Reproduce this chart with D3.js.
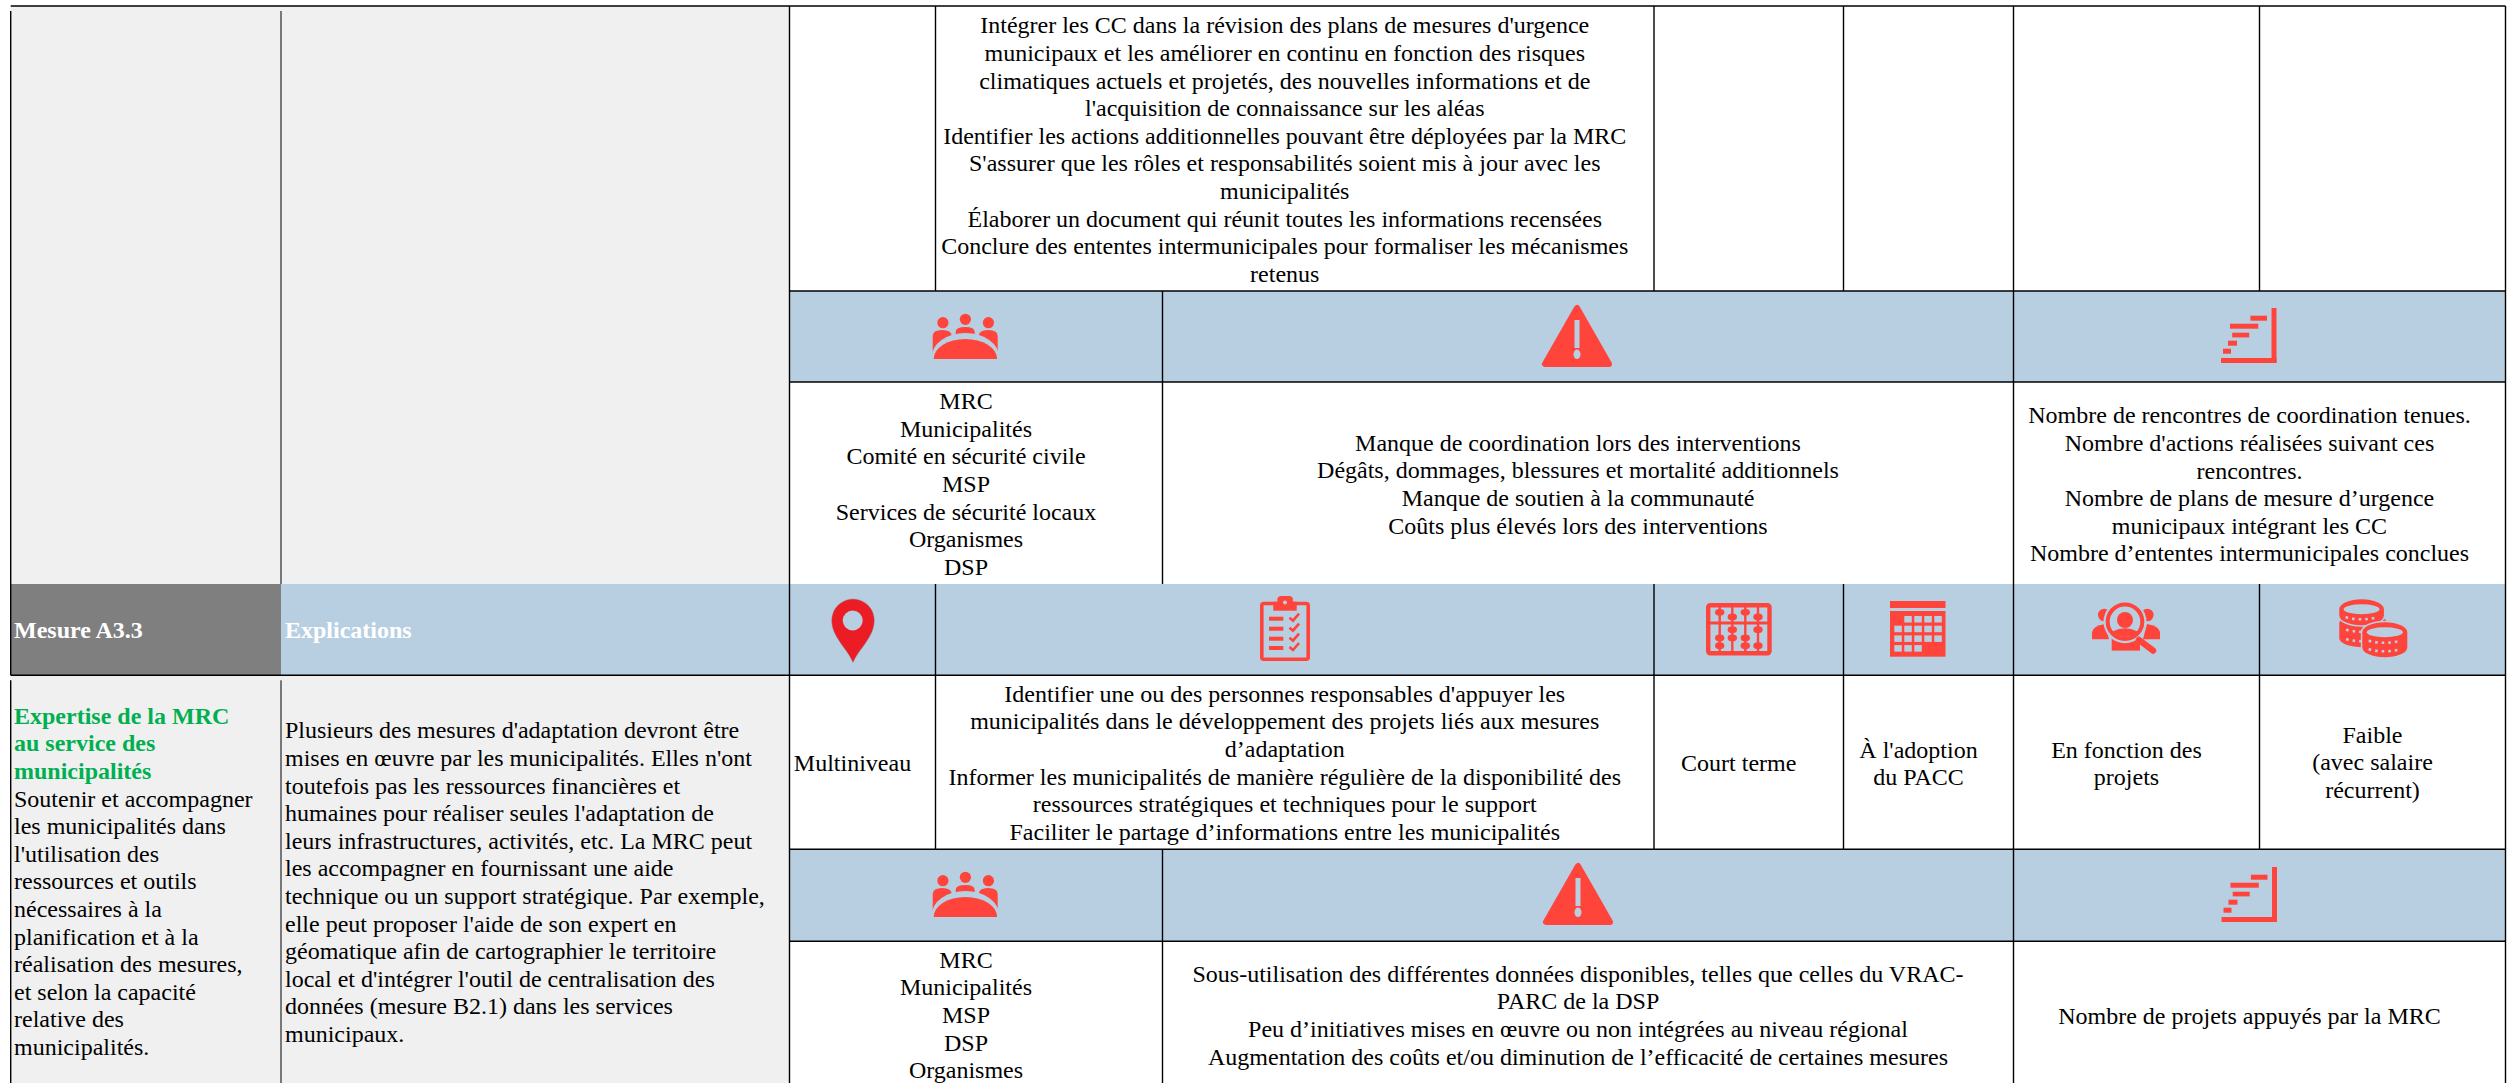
<!DOCTYPE html>
<html><head><meta charset="utf-8">
<script src="https://cdn.jsdelivr.net/npm/d3@7"></script>
<style>html,body{margin:0;padding:0;background:#fff;overflow:hidden}svg{display:block}text{font-family:"Liberation Serif",serif}</style>
</head><body><svg id="c" width="2518" height="1083"></svg>
<script>
const actionsA3_2 = ["Intégrer les CC dans la révision des plans de mesures d'urgence","municipaux et les améliorer en continu en fonction des risques","climatiques actuels et projetés, des nouvelles informations et de","l'acquisition de connaissance sur les aléas","Identifier les actions additionnelles pouvant être déployées par la MRC","S'assurer que les rôles et responsabilités soient mis à jour avec les","municipalités","Élaborer un document qui réunit toutes les informations recensées","Conclure des ententes intermunicipales pour formaliser les mécanismes","retenus"];
const acteursA3_2 = ["MRC","Municipalités","Comité en sécurité civile","MSP","Services de sécurité locaux","Organismes","DSP"];
const risquesA3_2 = ["Manque de coordination lors des interventions","Dégâts, dommages, blessures et mortalité additionnels","Manque de soutien à la communauté","Coûts plus élevés lors des interventions"];
const indicateursA3_2 = ["Nombre de rencontres de coordination tenues.","Nombre d'actions réalisées suivant ces","rencontres.","Nombre de plans de mesure d’urgence","municipaux intégrant les CC","Nombre d’ententes intermunicipales conclues"];
const mesureHead = ["Mesure A3.3"];
const explicHead = ["Explications"];
const mesureTitre = ["Expertise de la MRC","au service des","municipalités"];
const mesureTexte = ["Soutenir et accompagner","les municipalités dans","l'utilisation des","ressources et outils","nécessaires à la","planification et à la","réalisation des mesures,","et selon la capacité","relative des","municipalités."];
const explications = ["Plusieurs des mesures d'adaptation devront être","mises en œuvre par les municipalités. Elles n'ont","toutefois pas les ressources financières et","humaines pour réaliser seules l'adaptation de","leurs infrastructures, activités, etc. La MRC peut","les accompagner en fournissant une aide","technique ou un support stratégique. Par exemple,","elle peut proposer l'aide de son expert en","géomatique afin de cartographier le territoire","local et d'intégrer l'outil de centralisation des","données (mesure B2.1) dans les services","municipaux."];
const echelle = ["Multiniveau"];
const actionsA3_3 = ["Identifier une ou des personnes responsables d'appuyer les","municipalités dans le développement des projets liés aux mesures","d’adaptation","Informer les municipalités de manière régulière de la disponibilité des","ressources stratégiques et techniques pour le support","Faciliter le partage d’informations entre les municipalités"];
const horizon = ["Court terme"];
const echeance = ["À l'adoption","du PACC"];
const ressources = ["En fonction des","projets"];
const couts = ["Faible","(avec salaire","récurrent)"];
const acteursA3_3 = ["MRC","Municipalités","MSP","DSP","Organismes"];
const risquesA3_3 = ["Sous-utilisation des différentes données disponibles, telles que celles du VRAC-","PARC de la DSP","Peu d’initiatives mises en œuvre ou non intégrées au niveau régional","Augmentation des coûts et/ou diminution de l’efficacité de certaines mesures"];
const indicateursA3_3 = ["Nombre de projets appuyés par la MRC"];

const colKeys = ["L","a","b","c","s","d","e","f","g","R"];
const x = d3.scaleOrdinal().domain(colKeys).range([10.7,281,789.5,935.5,1162.5,1654,1843.5,2013.5,2259.5,2505.5]);
const rowKeys = ["top","b1","b1e","b2","b2e","b3","b3e","end"];
const y = d3.scaleOrdinal().domain(rowKeys).range([6,291,382,584,675.3,849.3,941.3,1083]);
const COL = {blue:"#b8cfe2",gray:"#f0f0f0",dark:"#7f7f7f",red:"#ff443c",pin:"#ec1c24",green:"#00b050"};
const FS = 24, LH = 27.6, BASE = 6.7, CENTER_SHIFT = -10;

const svg = d3.select("#c");
const fills = [
 ["L","b","top","b2",COL.gray],["L","a","b2","b2e",COL.dark],["a","b","b2","b2e",COL.blue],["L","b","b2e","end",COL.gray],
 ["b","R","b1","b1e",COL.blue],["b","R","b2","b2e",COL.blue],["b","R","b3","b3e",COL.blue]
];
svg.append("g").selectAll("rect").data(fills).join("rect")
 .attr("x",d=>x(d[0])).attr("width",d=>x(d[1])-x(d[0]))
 .attr("y",d=>y(d[2])).attr("height",d=>y(d[3])-y(d[2])).attr("fill",d=>d[4]);

const hRules = [["L","R","top"],["b","R","b1"],["b","R","b1e"],["L","R","b2e"],["b","R","b3"],["b","R","b3e"]];
svg.append("g").selectAll("line").data(hRules).join("line")
 .attr("x1",d=>x(d[0])).attr("x2",d=>x(d[1])).attr("y1",d=>y(d[2])).attr("y2",d=>y(d[2]))
 .attr("stroke","#000").attr("stroke-width",1.6);
const GAP = 5;
const vRules = [
 ["L",y("top")+GAP,y("b2e")],["L",y("b2e")+GAP,y("end")],
 ["a",y("top")+GAP,y("b2")],["a",y("b2e")+GAP,y("end")],
 ["b",y("top"),y("end")],["f",y("top"),y("end")],["R",y("top"),y("end")],
 ["c",y("top"),y("b1")],["c",y("b2"),y("b3")],
 ["s",y("b1"),y("b2")],["s",y("b3"),y("end")],
 ["d",y("top"),y("b1")],["d",y("b2"),y("b3")],
 ["e",y("top"),y("b1")],["e",y("b2"),y("b3")],
 ["g",y("top"),y("b1")],["g",y("b2"),y("b3")]
];
svg.append("g").selectAll("line").data(vRules).join("line")
 .attr("x1",d=>x(d[0])).attr("x2",d=>x(d[0])).attr("y1",d=>d[1]).attr("y2",d=>d[2])
 .attr("stroke","#000").attr("stroke-width",d=>d[0]==="a"?1:1.4);

function block(lines,c0,c1,y0,opt={}){
 const cx = opt.left!==undefined ? opt.left : (x(c0)+x(c1))/2+CENTER_SHIFT;
 svg.append("g").selectAll("text").data(lines).join("text")
  .attr("x",cx).attr("y",(d,i)=>y0+BASE+i*LH)
  .attr("text-anchor",opt.left!==undefined?"start":"middle")
  .attr("font-size",FS).attr("font-weight",opt.bold?"bold":"normal")
  .attr("fill",opt.color||"#000").text(d=>d);
}
block(actionsA3_2,"c","d",26.7);
block(acteursA3_2,"b","s",402.5);
block(risquesA3_2,"s","f",444);
block(indicateursA3_2,"f","R",416.7);
block(mesureHead,"L","a",631,{left:14,bold:true,color:"#fff"});
block(explicHead,"a","b",631,{left:285,bold:true,color:"#fff"});
block(mesureTitre,"L","a",717,{left:14,bold:true,color:COL.green});
block(mesureTexte,"L","a",717+3*LH,{left:14});
block(explications,"a","b",731.7,{left:285});
block(echelle,"b","c",764);
block(actionsA3_3,"c","d",695);
block(horizon,"d","e",764);
block(echeance,"e","f",751);
block(ressources,"f","g",751);
block(couts,"g","R",736);
block(acteursA3_3,"b","s",961);
block(risquesA3_3,"s","f",975);
block(indicateursA3_3,"f","R",1017);

function icon(px,py){return svg.append("g").attr("transform",`translate(${px},${py})`).attr("fill",COL.red);}
function people(px,py){const g=icon(px,py);
 [[10.2,8.7],[32.7,5.3],[55.7,8.7]].forEach(c=>g.append("circle").attr("cx",c[0]).attr("cy",c[1]).attr("r",5.6));
 g.append("path").attr("d","M0,44 V22 Q0,16 9.5,16 Q19,16 19,22 V44Z");
 g.append("path").attr("d","M46,44 V22 Q46,16 55.5,16 Q65,16 65,22 V44Z");
 g.append("path").attr("d","M23,28 V18 Q23,13 32.7,13 Q42,13 42,18 V28Z");
 g.append("path").attr("fill",COL.blue).attr("d","M-1,45 V43 A33.7,24 0 0 1 66.4,43 V45Z");
 g.append("path").attr("d","M1,45 A31.7,20 0 0 1 64.4,45Z");
}
function warning(px,py){const g=icon(px,py);
 g.append("path").attr("d","M35,3 L3,59 H67Z").attr("stroke",COL.red).attr("stroke-width",6).attr("stroke-linejoin","round");
 g.append("rect").attr("x",32.5).attr("y",15).attr("width",5).attr("height",28).attr("fill",COL.blue);
 g.append("ellipse").attr("cx",35).attr("cy",49.3).attr("rx",3.5).attr("ry",4.8).attr("fill",COL.blue);
}
function steps(px,py){const g=icon(px,py);
 [[50.5,0,5,55],[0,50,55.5,5],[29.4,7.7,16.6,5],[9,15.7,28.3,5],[11.2,24.7,17,4.7],[7,32.7,9,5],[2,40.7,8,5]]
 .forEach(r=>g.append("rect").attr("x",r[0]).attr("y",r[1]).attr("width",r[2]).attr("height",r[3]));
}
function pin(px,py){const g=svg.append("g").attr("transform",`translate(${px},${py})`);
 g.append("path").attr("fill",COL.pin).attr("stroke","#8a7f8f").attr("stroke-width",.7).attr("stroke-opacity",.6)
  .attr("d","M21.3,63.5 C16,50 0,38 0,21.5 A21.3,21.5 0 0 1 42.6,21.5 C42.6,38 27,50 21.3,63.5Z");
 g.append("circle").attr("cx",21).attr("cy",21.5).attr("r",10).attr("fill",COL.blue);
}
function clipboard(px,py){const g=icon(px,py);
 g.append("rect").attr("x",1.8).attr("y",7.5).attr("width",46.4).attr("height",55.7).attr("rx",2).attr("fill","none").attr("stroke",COL.red).attr("stroke-width",3.6);
 g.append("rect").attr("x",13.3).attr("y",5.7).attr("width",23.4).attr("height",9);
 g.append("rect").attr("x",17.3).attr("y",0).attr("width",15.7).attr("height",8).attr("rx",4);
 g.append("circle").attr("cx",25).attr("cy",6.5).attr("r",2).attr("fill",COL.blue);
 [20.7,30.7,40.7,50].forEach(b=>{
  g.append("rect").attr("x",9).attr("y",b).attr("width",14.3).attr("height",4);
  g.append("path").attr("d",`M29.5,${b+1} L33,${b+4} L39,${b-3}`).attr("fill","none").attr("stroke",COL.red).attr("stroke-width",2.6);
 });
}
function abacus(px,py){const g=icon(px,py);
 g.append("rect").attr("x",2.2).attr("y",2.2).attr("width",61.3).attr("height",48).attr("rx",2).attr("fill","none").attr("stroke",COL.red).attr("stroke-width",4.4);
 g.append("rect").attr("x",2).attr("y",18.5).attr("width",61).attr("height",3);
 const rods=[13.7,26.3,39.3,52], beads=[[9.3,35,42.7],[14,26.7,35],[9.3,35,42.7],[14,26.7,42.7]];
 rods.forEach((r,i)=>{
  g.append("rect").attr("x",r-1.2).attr("y",2).attr("width",2.4).attr("height",48);
  beads[i].forEach(b=>g.append("ellipse").attr("cx",r).attr("cy",b).attr("rx",4.7).attr("ry",3.4));
 });
}
function calendar(px,py){const g=icon(px,py);
 g.append("rect").attr("width",55.5).attr("height",7);
 g.append("rect").attr("y",10).attr("width",55.5).attr("height",45.7);
 const cols=[[1,2,3,4],[0,1,2,3,4],[0,1,2,3,4],[0,1,2]];
 cols.forEach((r,ri)=>r.forEach(c=>g.append("rect").attr("x",4.3+c*10).attr("y",15+ri*9.7).attr("width",7.5).attr("height",6.5).attr("fill",COL.blue)));
}
function search(px,py){const g=icon(px,py);
 g.append("circle").attr("cx",12.3).attr("cy",10).attr("r",6.3);
 g.append("circle").attr("cx",55.3).attr("cy",10).attr("r",6.3);
 g.append("path").attr("d","M0,34.3 V27 Q1,21 13,19 L17,34.3Z");
 g.append("path").attr("d","M68,34.3 V27 Q67,21 55,19 L51,34.3Z");
 g.append("rect").attr("x",19.7).attr("y",33).attr("width",28.3).attr("height",12.6);
 g.append("circle").attr("cx",33).attr("cy",16.7).attr("r",21.5).attr("fill",COL.blue);
 g.append("circle").attr("cx",33).attr("cy",16.7).attr("r",17.3).attr("fill","none").attr("stroke",COL.red).attr("stroke-width",4);
 g.append("circle").attr("cx",33).attr("cy",15).attr("r",8);
 g.append("path").attr("d","M20.5,26.5 Q33,20 45.5,26.5 Q40,32 33,32 Q26,32 20.5,26.5Z");
 g.append("line").attr("x1",47).attr("y1",35).attr("x2",61).attr("y2",45.5).attr("stroke",COL.red).attr("stroke-width",6.5).attr("stroke-linecap","round");
}
function coin(g,cx,cy,rx,ry,h,dots,hole,halo){
 const body=`M${cx-rx},${cy} V${cy+h} A${rx},${ry} 0 0 0 ${cx+rx},${cy+h} V${cy} A${rx},${ry} 0 0 0 ${cx-rx},${cy}Z`;
 if(halo) g.append("path").attr("d",body).attr("stroke",COL.blue).attr("stroke-width",3).attr("fill",COL.blue);
 g.append("path").attr("d",body);
 if(hole) g.append("ellipse").attr("cx",cx).attr("cy",cy).attr("rx",rx*.8).attr("ry",5).attr("fill",COL.blue);
 dots.forEach(d=>g.append("path").attr("d",`M${cx-rx*.72},${d-1.5} Q${cx},${d+2.5} ${cx+rx*.72},${d-1.5}`)
  .attr("fill","none").attr("stroke",COL.blue).attr("stroke-width",2.6).attr("stroke-dasharray","2.6 4"));
}
function coins(px,py){const g=icon(px,py);
 coin(g,24,24,24,9,15,[32,41.5],false,false);
 coin(g,22.3,10,22.3,10,6,[19.5],true,true);
 coin(g,45.5,33,22.5,10,15,[43,51.5],true,true);
}
people(932.7,314); warning(1542,305); steps(2221,308);
pin(831.7,599); clipboard(1260,596); abacus(1706,603); calendar(1890,601); search(2092,605); coins(2339.3,599.3);
people(932.7,872); warning(1543,863); steps(2221.5,867);
</script></body></html>
